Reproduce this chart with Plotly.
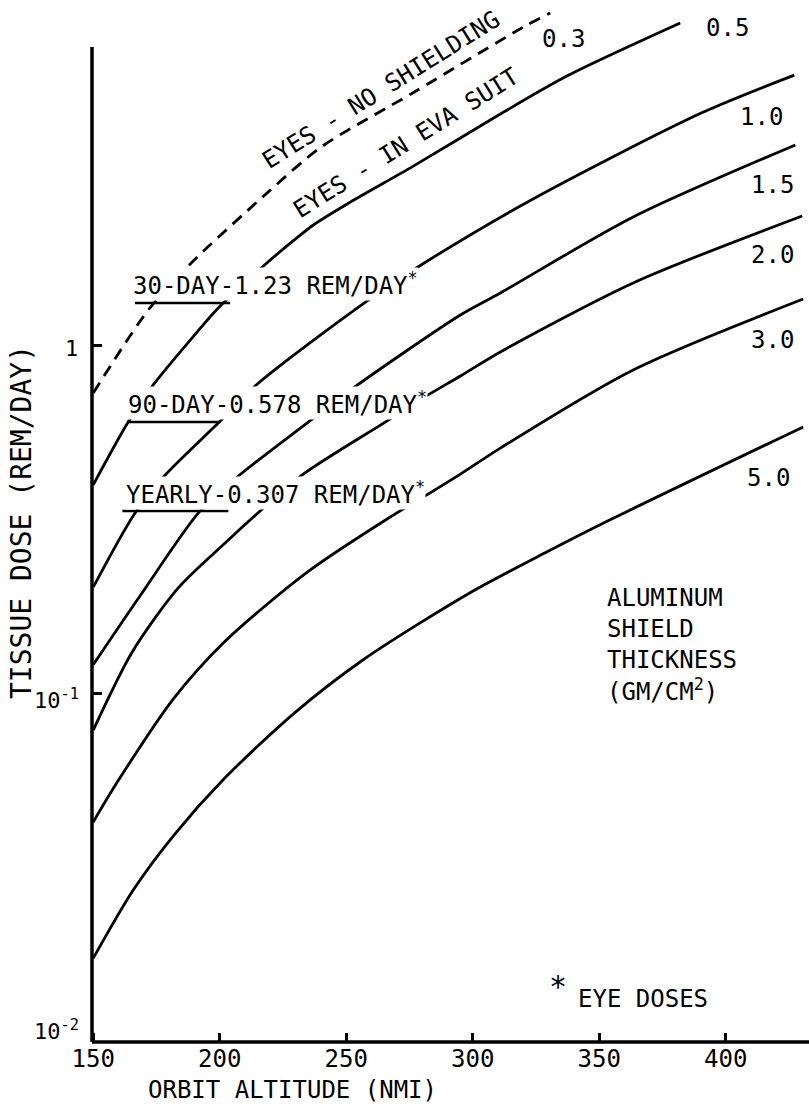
import plotly.graph_objects as go

# ---------------- data ----------------
# "EYES - NO SHIELDING" (dashed, 0.3)
alt_03 = [150, 171.7, 188.7, 219.2, 240.1, 276.9, 320.0, 330.6]
dose_03 = [0.728, 1.259, 1.718, 2.75, 3.70, 5.32, 8.17, 8.97]
# "EYES - IN EVA SUIT" (0.5)
alt_05 = [150, 163.8, 173.7, 190.7, 199.4, 216.8, 227.9, 237.0, 251.6, 276.5, 310.9, 337.4, 382.0]
dose_05 = [0.397, 0.601, 0.768, 1.082, 1.277, 1.674, 1.96, 2.21, 2.57, 3.26, 4.60, 5.92, 8.39]
# 1.0 gm/cm2
alt_10 = [150, 166.2, 177.7, 199.4, 214.4, 258.7, 280.8, 323.1, 390.3, 427.1]
dose_10 = [0.202, 0.327, 0.418, 0.597, 0.768, 1.346, 1.719, 2.607, 4.63, 5.95]
# 1.5 gm/cm2
alt_15 = [150, 169.0, 191.9, 206.9, 235.0, 252.8, 295.1, 310.9, 363.4, 427.5]
dose_15 = [0.121, 0.193, 0.332, 0.418, 0.601, 0.753, 1.219, 1.410, 2.330, 3.750]
# 2.0 gm/cm2
alt_20 = [150, 165.4, 183.6, 201.8, 216.4, 232.6, 265.4, 280.4, 295.1, 310.9, 363.4, 430.2]
dose_20 = [0.0785, 0.1316, 0.201, 0.269, 0.336, 0.424, 0.601, 0.705, 0.815, 0.955, 1.507, 2.345]
# 3.0 gm/cm2
alt_30 = [150, 159.5, 181.6, 201.8, 234.6, 267.4, 280.4, 295.1, 310.9, 363.4, 430.6]
dose_30 = [0.0428, 0.0557, 0.0964, 0.1406, 0.223, 0.321, 0.366, 0.426, 0.506, 0.848, 1.355]
# 5.0 gm/cm2
alt_50 = [150, 165.8, 181.6, 201.7, 229.0, 256.7, 298.6, 329.4, 354.3, 430.6]
dose_50 = [0.0174, 0.0273, 0.0390, 0.0569, 0.0873, 0.125, 0.194, 0.255, 0.315, 0.582]

curve_labels = ["0.3", "0.5", "1.0", "1.5", "2.0", "3.0", "5.0"]

# dose-limit segments (underlines)
limit_labels = ["30-DAY-1.23 REM/DAY", "90-DAY-0.578 REM/DAY", "YEARLY-0.307 REM/DAY"]
limit_alt_start = [166.5, 163.4, 161.5]
limit_alt_end = [204.1, 200.2, 203.4]
limit_dose = [1.32, 0.601, 0.334]

x_ticks = [150, 200, 250, 300, 350, 400]
y_ticks = [0.01, 0.1, 1]
y_ticktext = ["10<sup>-2</sup>", "10<sup>-1</sup>", "1"]

# ---------------- styling ----------------
FONT = "DejaVu Sans Mono, monospace"
FS = 24
W, H = 809, 1109
L, B = 92, 67
PW, PH = W - L, H - B


def paper(px, py):
    return (px - L) / PW, (H - B - py) / PH


fig = go.Figure()

curves = [(alt_03, dose_03, "dash"), (alt_05, dose_05, "solid"), (alt_10, dose_10, "solid"),
          (alt_15, dose_15, "solid"), (alt_20, dose_20, "solid"), (alt_30, dose_30, "solid"),
          (alt_50, dose_50, "solid")]
for (xa, ya, dash), name in zip(curves, curve_labels):
    fig.add_trace(go.Scatter(
        x=xa, y=ya, mode="lines", name=name, showlegend=False, hoverinfo="skip",
        line=dict(color="black", width=2.8, shape="spline", smoothing=0.8,
                  dash="12px,8px" if dash == "dash" else "solid")))

for a0, a1, d in zip(limit_alt_start, limit_alt_end, limit_dose):
    fig.add_trace(go.Scatter(x=[a0, a1], y=[d, d], mode="lines", showlegend=False,
                             hoverinfo="skip", line=dict(color="black", width=2.6)))

ann = []


def text(px, py, s, xanchor="center", yanchor="middle", angle=0, size=FS, bg=None, align="left"):
    x, y = paper(px, py)
    d = dict(x=x, y=y, xref="paper", yref="paper", text=s, showarrow=False,
             xanchor=xanchor, yanchor=yanchor, textangle=angle, align=align,
             font=dict(family=FONT, size=size, color="black"), borderpad=0)
    if bg:
        d["bgcolor"] = bg
    ann.append(d)


# limit labels (mask the curves behind them), bottoms just above the underlines
lim_pos = [(132, 301), (127, 420), (125, 510)]
for (px, py), s in zip(lim_pos, limit_labels):
    text(px, py, s + "<sup>*</sup>", xanchor="left", yanchor="bottom", bg="white")

# curve labels on the right
lab_pos = [(563, 39), (727, 28), (761, 117), (772, 185), (772, 255), (772, 340), (768, 478)]
for (px, py), s in zip(lab_pos, curve_labels):
    text(px, py, s)

text(381, 90, "EYES - NO SHIELDING", angle=-32)
text(406, 143, "EYES - IN EVA SUIT", angle=-32)

text(606, 583, "ALUMINUM<br>SHIELD<br>THICKNESS<br>(GM/CM<sup>2</sup>)",
     xanchor="left", yanchor="top")

text(558, 986, "*", size=30)
text(577, 999, "EYE DOSES", xanchor="left")

text(292, 1090, "ORBIT ALTITUDE (NMI)")
text(21, 522, "TISSUE DOSE (REM/DAY)", angle=-90, size=28)

# y tick labels
ylab_pos = [(80, 1030), (80, 699), (79, 349)]
for (px, py), s in zip(ylab_pos, y_ticktext):
    text(px, py, s, xanchor="right", size=22)

fig.update_layout(
    width=W, height=H, margin=dict(l=L, r=0, t=0, b=B, pad=0),
    paper_bgcolor="white", plot_bgcolor="white",
    font=dict(family=FONT, size=FS, color="black"),
    annotations=ann,
    shapes=[
        dict(type="line", xref="paper", yref="paper", x0=0, x1=0, y0=0,
             y1=paper(0, 47)[1], line=dict(color="black", width=3.5)),
        dict(type="line", xref="paper", yref="paper", x0=0, x1=1, y0=0, y1=0,
             line=dict(color="black", width=3.5)),
    ],
    xaxis=dict(range=[149.5, 149.5 + PW / 2.53], showgrid=False, zeroline=False, showline=False,
               tickvals=x_ticks, ticktext=[str(v) for v in x_ticks], ticks="inside",
               ticklen=9, tickwidth=2.5, tickcolor="black",
               tickfont=dict(family=FONT, size=FS)),
    yaxis=dict(type="log", range=[-2, -2 + PH / 348.5], showgrid=False, zeroline=False,
               showline=False, tickvals=y_ticks, showticklabels=False, ticks="inside",
               ticklen=10, tickwidth=2.5, tickcolor="black"),
)

fig.write_html("out.html")
